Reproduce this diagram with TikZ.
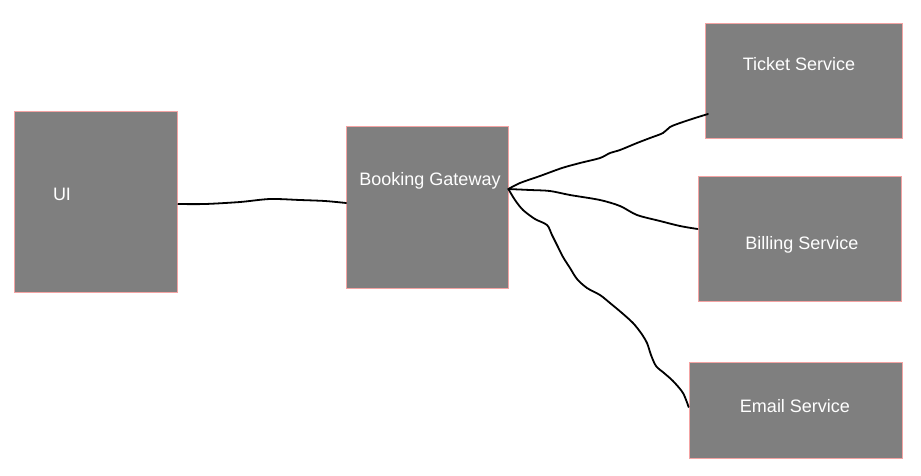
\documentclass[tikz,border=0pt]{standalone}
\usepackage{fontspec}
\setmainfont{Liberation Sans}
\definecolor{boxfill}{HTML}{7F7F7F}
\definecolor{boxedge}{HTML}{F4A3A3}
\tikzset{
  box/.style={draw=boxedge, fill=boxfill, line width=0.8pt, rectangle, inner sep=0pt},
  lbl/.style={text=white, font=\fontsize{18}{21}\selectfont, inner sep=0pt},
  wire/.style={draw=black, line width=1.8pt, line cap=round, line join=round}
}
\begin{document}
\begin{tikzpicture}[x=1pt,y=-1pt]
\useasboundingbox (0,0) rectangle (921,475);
% boxes
\node[box, minimum width=163pt, minimum height=181pt] (ui) at (96.25,201.5) {};
\node[box, minimum width=161.5pt, minimum height=162pt] (bg) at (427.25,207) {};
\node[box, minimum width=197pt, minimum height=115pt] (ts) at (803.5,80.5) {};
\node[box, minimum width=203pt, minimum height=125pt] (bs) at (799.5,238.5) {};
\node[box, minimum width=213pt, minimum height=96pt] (es) at (795.5,410) {};
% texts
\node[lbl] (uit) at (62,194) {UI};
\node[lbl] (bgt) at (430,181) {Booking Gateway};
\node[lbl] (tst) at (799,64) {Ticket Service};
\node[lbl] (bst) at (802,245) {Billing Service};
\node[lbl] (est) at (795,406) {Email Service};
% ports
\coordinate (uip) at (ui.east |- 0,204);
\coordinate (bgw) at (bg.west |- 0,203);
\coordinate (bgp) at (bg.east |- 0,189);
\coordinate (tsp) at (708,114);
\coordinate (bsp) at (bs.west |- 0,229);
\coordinate (esp) at (es.west |- 0,407);
% connectors
\draw[wire] plot[smooth, tension=0.5] coordinates {(uip) (205,204) (240,202) (270,199) (300,200) (325,201) (bgw)};
\draw[wire] plot[smooth, tension=0.5] coordinates {(bgp) (520,183) (540,176) (562,168) (580,163) (600,158) (610,153) (620,150) (637,143) (650,138) (663,133) (670,127) (680,123) (695,118) (tsp)};
\draw[wire] plot[smooth, tension=0.5] coordinates {(bgp) (530,190) (550,191) (570,195) (600,200) (620,206) (637,215) (660,221) (680,226) (bsp)};
\draw[wire] plot[smooth, tension=0.5] coordinates {(bgp) (515,200) (523,210) (535,219) (547,225) (552,235) (558,247) (563,257) (570,268) (577,279) (587,288) (600,295) (610,303) (622,313) (633,323) (641,333) (647,343) (651,355) (656,366) (664,373) (673,381) (683,393) (esp)};
\end{tikzpicture}
\end{document}
